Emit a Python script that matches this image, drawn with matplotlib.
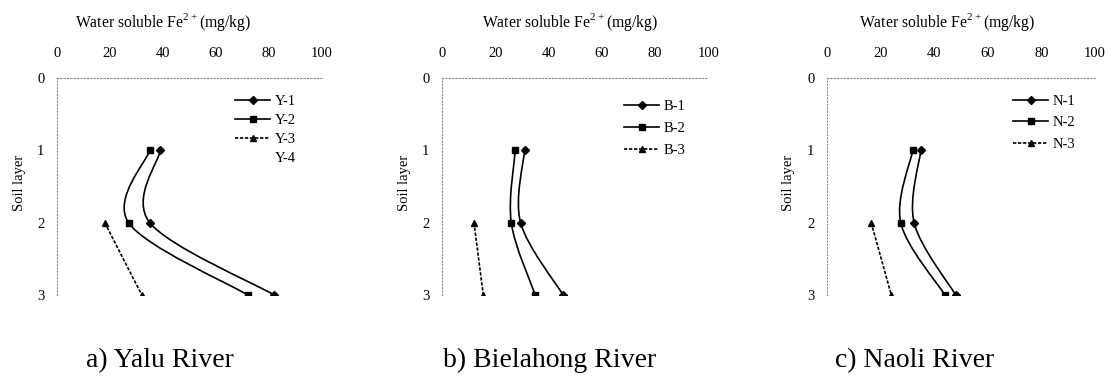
import matplotlib
matplotlib.use("Agg")
import matplotlib.pyplot as plt
from matplotlib.path import Path
from matplotlib.patches import PathPatch
from matplotlib.lines import Line2D

plt.rcParams["font.family"] = "Liberation Serif"
plt.rcParams["mathtext.fontset"] = "custom"
plt.rcParams["mathtext.rm"] = "Liberation Serif"

# soil layers (y) and water soluble Fe2+ (mg/kg)
layers = [1, 2, 3]
layers_y3 = [2, 3]

yalu_y1 = [39, 35, 82]
yalu_y2 = [35, 27, 72]
yalu_y3 = [18, 32]

biel_b1 = [31, 29.5, 45.5]
biel_b2 = [27.5, 26, 35]
biel_b3 = [12, 15.5]

naoli_n1 = [35, 32.5, 48]
naoli_n2 = [32, 27.5, 44]
naoli_n3 = [16.5, 24]

captions = ["a) Yalu River", "b) Bielahong River", "c) Naoli River"]
xticks = [0, 20, 40, 60, 80, 100]
yticks = [0, 1, 2, 3]


def smooth(ax, xs, ys, ls):
    # excel-style smoothed line: cubic bezier through the points
    pts = list(zip(xs, ys))
    n = len(pts)
    verts = [pts[0]]
    codes = [Path.MOVETO]
    for i in range(n - 1):
        p0 = pts[max(i - 1, 0)]
        p1 = pts[i]
        p2 = pts[i + 1]
        p3 = pts[min(i + 2, n - 1)]
        c1 = (p1[0] + (p2[0] - p0[0]) / 6, p1[1] + (p2[1] - p0[1]) / 6)
        c2 = (p2[0] - (p3[0] - p1[0]) / 6, p2[1] - (p3[1] - p1[1]) / 6)
        verts += [c1, c2, p2]
        codes += [Path.CURVE4] * 3
    ax.add_patch(PathPatch(Path(verts, codes), fill=False, lw=1.2,
                           ls=ls, edgecolor="black"))


panels = [
    ([("Y-1", yalu_y1, layers, "D", "-"), ("Y-2", yalu_y2, layers, "s", "-"),
      ("Y-3", yalu_y3, layers_y3, "^", (0, (2, 1)))], True,
     0.40, (0.672, 0.922), 0.4, [0.0514, 0.2154, 0.239, 0.577]),
    ([("B-1", biel_b1, layers, "D", "-"), ("B-2", biel_b2, layers, "s", "-"),
      ("B-3", biel_b3, layers_y3, "^", (0, (2, 1)))], False,
     0.48, (0.684, 0.9), 0.6, [0.3986, 0.2154, 0.24, 0.577]),
    ([("N-1", naoli_n1, layers, "D", "-"), ("N-2", naoli_n2, layers, "s", "-"),
      ("N-3", naoli_n3, layers_y3, "^", (0, (2, 1)))], False,
     0.45, (0.694, 0.922), 0.55, [0.7457, 0.2154, 0.2417, 0.577]),
]

fig = plt.figure(figsize=(11.09, 3.76), dpi=100)

for series, extra, tx, lpos, lsp, rect in panels:
    ax = fig.add_axes(rect)
    handles = []
    for name, vals, ys, mk, ls in series:
        smooth(ax, vals, ys, ls)
        ax.plot(vals, ys, ls="none", marker=mk, color="black", ms=4.5)
        handles.append(Line2D([], [], color="black", lw=1.2, ls=ls,
                              marker=mk, ms=4.5, label=name))
    if extra:
        handles.append(Line2D([], [], ls="none", label="Y-4"))
    ax.set_xlim(0, 100)
    ax.set_ylim(3, 0)
    ax.set_xticks(xticks)
    ax.set_yticks(yticks)
    ax.xaxis.tick_top()
    ax.tick_params(axis="x", length=0, pad=13, labelsize=10.5)
    ax.tick_params(axis="y", length=0, pad=9, labelsize=10.5)
    for s in ["right", "bottom"]:
        ax.spines[s].set_visible(False)
    for s in ["top", "left"]:
        ax.spines[s].set_linestyle((0, (1, 2)))
        ax.spines[s].set_color("#888888")
        ax.spines[s].set_linewidth(0.8)
    ax.text(tx, 1.258, "Water soluble Fe$^{\\mathrm{2+}}$(mg/kg)",
            transform=ax.transAxes, ha="center", va="center", fontsize=11.3)
    ax.text(-0.142, 0.516, "Soil layer", transform=ax.transAxes, rotation=90,
            ha="center", va="center", fontsize=10.5)
    ax.legend(handles=handles, loc="upper left", bbox_to_anchor=lpos,
              frameon=False, fontsize=10.5, handlelength=2.4,
              handletextpad=0.3, labelspacing=lsp, borderpad=0,
              borderaxespad=0)

cap_x = [0.144, 0.496, 0.825]
for x, c in zip(cap_x, captions):
    fig.text(x, 0.024, c, ha="center", va="baseline", fontsize=20)

fig.savefig("out.png", dpi=100)
